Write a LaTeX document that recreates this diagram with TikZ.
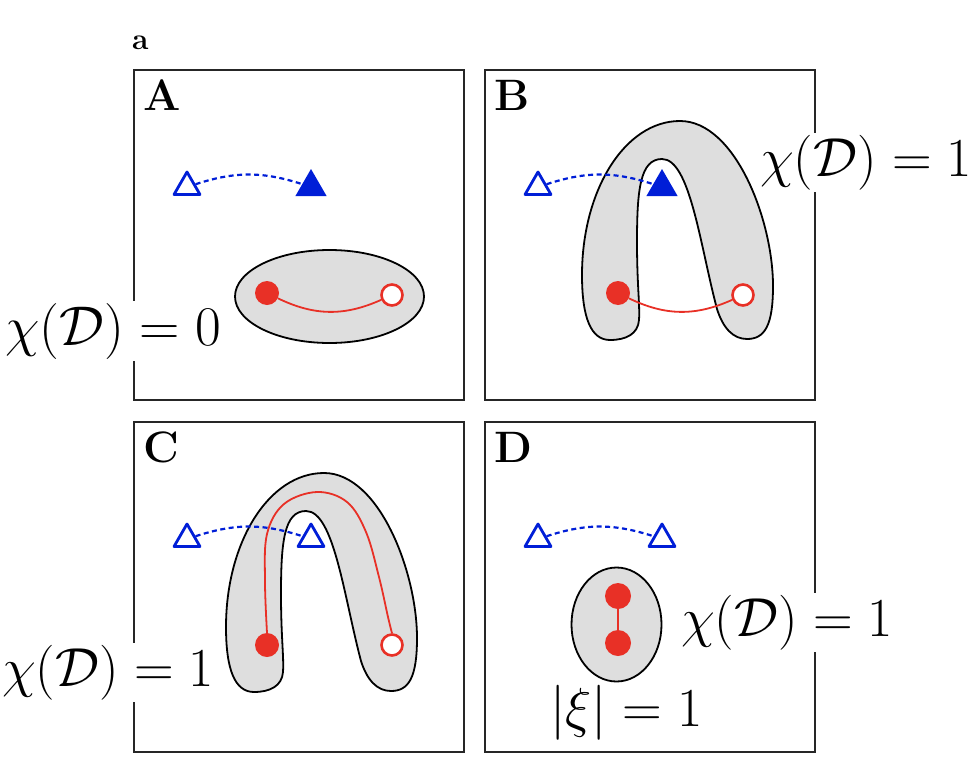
\RequirePackage{fix-cm}
\documentclass[tikz,border=0pt]{standalone}
\usetikzlibrary{shapes.geometric}
\definecolor{tblue}{RGB}{0,30,215}
\definecolor{tred}{RGB}{232,48,38}
\definecolor{shade}{RGB}{222,222,222}
\tikzset{
 panelbox/.style={draw=black!85, line width=1.8pt},
 blob/.style={draw=black, line width=1.8pt, fill=shade},
 opentri/.style={regular polygon, regular polygon sides=3, draw=tblue, fill=white, line width=2.8pt, line join=round, inner sep=0pt, minimum size=30pt},
 fulltri/.style={regular polygon, regular polygon sides=3, fill=tblue, inner sep=0pt, minimum size=36pt},
 dotlink/.style={tblue, line width=2.2pt, dash pattern=on 5pt off 3.5pt},
 fulldot/.style={circle, fill=tred, inner sep=0pt, minimum size=24pt},
 opendot/.style={circle, fill=white, draw=tred, line width=2.6pt, inner sep=0pt, minimum size=21pt},
 redlink/.style={tred, line width=1.8pt},
 panellabel/.style={anchor=base west, inner sep=0pt, font=\fontsize{44}{50}\selectfont\bfseries},
 chilabel/.style={anchor=base west, fill=white, inner xsep=0pt, inner ysep=2pt, font=\fontsize{55}{62}\selectfont},
 hshoe/.pic={\draw[blob] (125,-270)
   .. controls (106,-270) and (97,-248) .. (97,-205)
   .. controls (97,-120) and (140,-51) .. (195,-51)
   .. controls (250,-51) and (288,-150) .. (288,-216)
   .. controls (288,-255) and (280,-269) .. (262,-269)
   .. controls (248,-269) and (238,-258) .. (232,-239)
   .. controls (215,-175) and (205,-89) .. (177,-89)
   .. controls (155,-89) and (152,-120) .. (152,-172)
   .. controls (152,-215) and (155,-235) .. (154,-250)
   .. controls (153,-264) and (141,-270) .. (125,-270) -- cycle;},
}
\begin{document}
\begin{tikzpicture}[x=1pt,y=1pt]
\path[use as bounding box] (0,0) rectangle (976,-776);
\node[anchor=base west, inner sep=0pt, font=\fontsize{30}{34}\selectfont\bfseries] (lab-a) at (132,-50) {a};

% Panel A
\begin{scope}[shift={(134,-70)}]
 \draw[panelbox] (0,0) rectangle (330,-330);
 \node[panellabel] (A-lab) at (9,-40) {A};
 \draw[blob] (195.5,-226.5) ellipse [x radius=94.5, y radius=46.5];
 \node[opentri] (A-t1) at (53,-117) {};
 \node[fulltri] (A-t2) at (177,-117) {};
 \node[fulldot] (A-f) at (133,-223) {};
 \node[opendot] (A-o) at (258,-225) {};
 \draw[dotlink] (A-t1) to[bend left=18] (A-t2);
 \draw[redlink] (A-f) to[bend right=25] (A-o);
\end{scope}

% Panel B
\begin{scope}[shift={(485,-70)}]
 \draw[panelbox] (0,0) rectangle (330,-330);
 \node[panellabel] (B-lab) at (9,-40) {B};
 \pic at (0,0) {hshoe};
 \node[opentri] (B-t1) at (53,-117) {};
 \node[fulltri] (B-t2) at (177,-117) {};
 \node[fulldot] (B-f) at (133,-223) {};
 \node[opendot] (B-o) at (258,-225) {};
 \draw[dotlink] (B-t1) to[bend left=18] (B-t2);
 \draw[redlink] (B-f) to[bend right=25] (B-o);
\end{scope}

% Panel C
\begin{scope}[shift={(134,-422)}]
 \draw[panelbox] (0,0) rectangle (330,-330);
 \node[panellabel] (C-lab) at (9,-40) {C};
 \pic at (-5,0) {hshoe};
 \node[opentri] (C-t1) at (53,-117) {};
 \node[opentri] (C-t2) at (177,-117) {};
 \node[fulldot] (C-f) at (133,-223) {};
 \node[opendot] (C-o) at (258,-223) {};
 \draw[redlink] plot[smooth, tension=0.6] coordinates {(C-f.north) (131,-160) (133,-112) (150,-82) (183,-70) (213,-80) (232,-110) (245,-155) (254,-195) (C-o.north)};
 \draw[dotlink] (C-t1) to[bend left=18] (C-t2);
\end{scope}

% Panel D
\begin{scope}[shift={(485,-422)}]
 \draw[panelbox] (0,0) rectangle (330,-330);
 \node[panellabel] (D-lab) at (9,-40) {D};
 \draw[blob] (131.5,-202.5) ellipse [x radius=45, y radius=57];
 \node[opentri] (D-t1) at (53,-117) {};
 \node[opentri] (D-t2) at (177,-117) {};
 \node[fulldot, minimum size=26pt] (D-f1) at (133,-174) {};
 \node[fulldot, minimum size=26pt] (D-f2) at (133,-221) {};
 \draw[dotlink] (D-t1) to[bend left=18] (D-t2);
 \draw[redlink, line width=2.2pt] (D-f1) -- (D-f2);
\end{scope}

% Labels
\node[chilabel, font=\fontsize{56}{62}\selectfont] (chiA) at (5,-345) {$\chi(\mathcal{D}) = 0$};
\node[chilabel] (chiB) at (760,-176) {$\chi(\mathcal{D}) = 1$};
\node[chilabel] (chiC) at (2,-686) {$\chi(\mathcal{D}) = 1$};
\node[chilabel] (chiD) at (681,-636) {$\chi(\mathcal{D}) = 1$};
\node[chilabel] (xiD) at (550,-726) {$|\xi| = 1$};
\end{tikzpicture}
\end{document}
